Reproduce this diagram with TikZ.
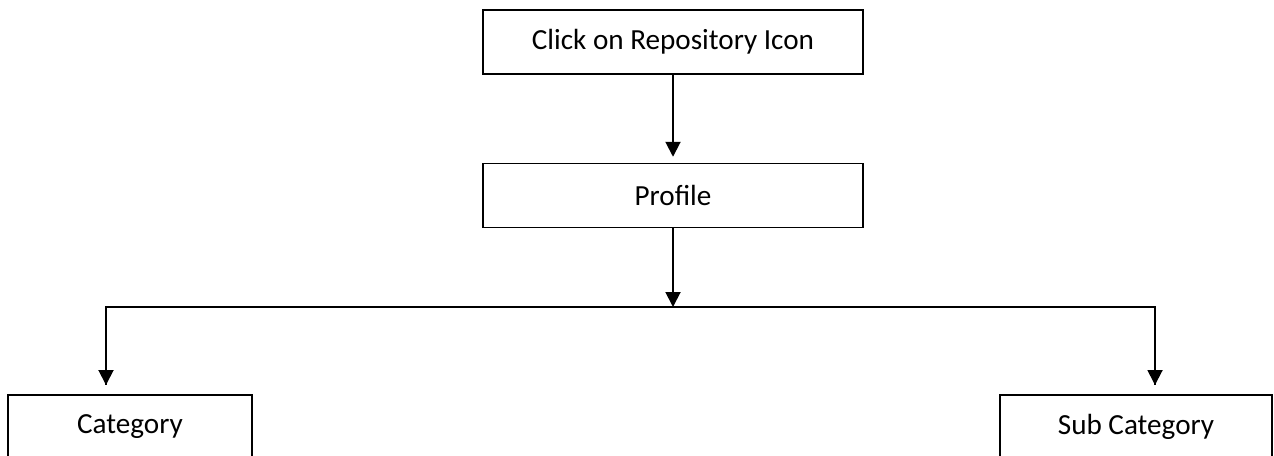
\documentclass[tikz,border=0pt]{standalone}
\usepackage{fontspec}
\setmainfont{Carlito}
\usepackage{tikz}
\usetikzlibrary{arrows.meta}
\tikzstyle{arrow} = [-{Triangle[length=0.3cm,width=0.3cm]}, line width=1.1pt]
\tikzstyle{box} = [draw, line width=0.8pt, minimum height=1.28cm, inner sep=0pt, font=\fontsize{16.6pt}{20pt}\selectfont]

\begin{document}
\begin{tikzpicture}[x=0.02cm, y=-0.02cm, node distance=3.07cm]
	\useasboundingbox (0,0) rectangle (1274,456);
	\node (click) [box, minimum width=7.6cm] at (673,42) {Click on Repository Icon};
	\node (profile) [box, minimum width=7.6cm, below of=click] {Profile};
	\node (cat) [box, minimum width=4.88cm] at (130,427) {Category};
	\node (subcat) [box, minimum width=5.44cm] at (1136,427) {Sub Category};

	\coordinate (split) at (673,307);
	\coordinate (catin) at (106,385);
	\coordinate (subin) at (1155,385);

	\draw [arrow, shorten >=0.12cm] (click) -- (profile);
	\draw [arrow] (profile) -- (split);
	\draw [line width=0.7pt] (split) -| (catin);
	\draw [line width=0.7pt] (split) -| (subin);
	\draw [arrow] (catin |- split) -- (catin);
	\draw [arrow] (subin |- split) -- (subin);
\end{tikzpicture}
\end{document}
